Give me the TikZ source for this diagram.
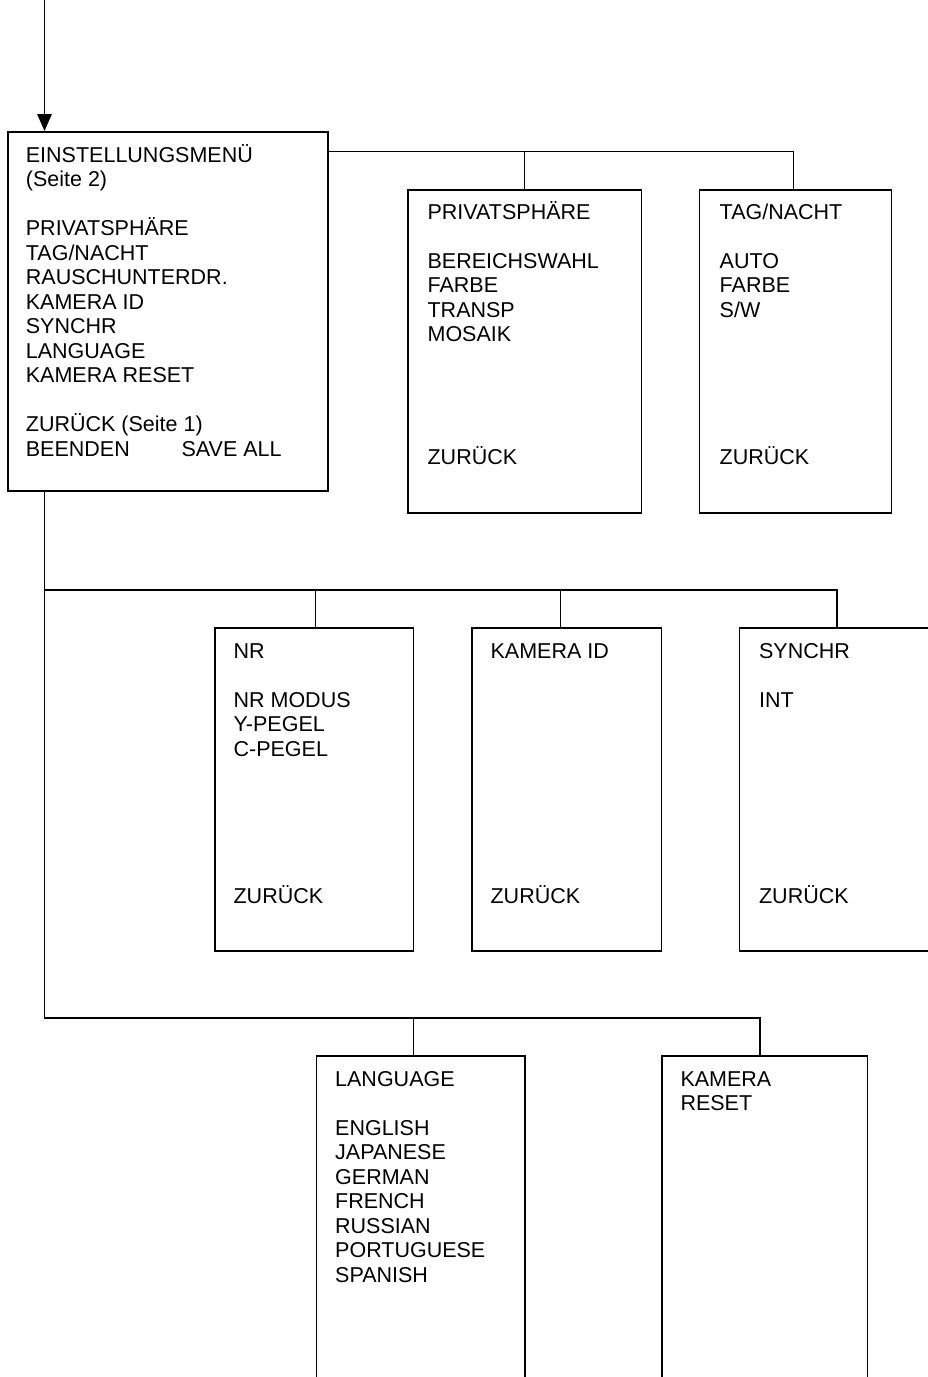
\documentclass[tikz,border=0pt]{standalone}
\usepackage{fontspec}
\setmainfont{Liberation Sans}
\usetikzlibrary{arrows.meta}

\tikzset{
  menubox/.style={draw, line width=1.5pt, anchor=north west, inner sep=0pt},
  menutext/.style={anchor=base west, inner sep=0pt, font=\fontsize{21.5}{24.5}\selectfont},
  link/.style={line width=1.3pt}
}
\newcommand{\gapline}{\\[\baselineskip]}

\begin{document}
\begin{tikzpicture}[x=1pt, y=-1pt]
    \useasboundingbox (0,0) rectangle (927,1377);

    % menu boxes
    \node[menubox, minimum width=320pt, minimum height=359pt] (main) at (7,131) {};
    \node[menubox, minimum width=233.7pt, minimum height=323pt] (priv) at (407,189.3) {};
    \node[menubox, minimum width=192pt, minimum height=323pt] (tag) at (698.7,189.3) {};
    \node[menubox, minimum width=198.4pt, minimum height=323pt] (nr) at (214.3,627.3) {};
    \node[menubox, minimum width=189.7pt, minimum height=323pt] (kid) at (471,627.3) {};
    \node[menubox, minimum width=210pt, minimum height=323pt] (sync) at (738.7,627.3) {};
    \node[menubox, minimum width=208.3pt, minimum height=340pt] (lang) at (315.7,1055.3) {};
    \node[menubox, minimum width=205.7pt, minimum height=340pt] (reset) at (661,1055.3) {};

    % texts
    \node[menutext] (maintext) at ([shift={(18.7pt,-31.3pt)}]main.north west) {\parbox[t]{300pt}{%
      EINSTELLUNGSMENÜ\\
      (Seite 2)\gapline
      PRIVATSPHÄRE\\
      TAG/NACHT\\
      RAUSCHUNTERDR.\\
      KAMERA ID\\
      SYNCHR\\
      LANGUAGE\\
      KAMERA RESET\gapline
      ZURÜCK (Seite 1)\\
      \makebox[155.7pt][l]{BEENDEN}SAVE ALL}};
    \node[menutext] (privtext) at ([shift={(20.4pt,-30pt)}]priv.north west) {\parbox[t]{210pt}{%
      PRIVATSPHÄRE\gapline
      BEREICHSWAHL\\
      FARBE\\
      TRANSP\\
      MOSAIK\\[4\baselineskip]
      ZURÜCK}};
    \node[menutext] (tagtext) at ([shift={(20.8pt,-30pt)}]tag.north west) {\parbox[t]{170pt}{%
      TAG/NACHT\gapline
      AUTO\\
      FARBE\\
      S/W\\[5\baselineskip]
      ZURÜCK}};
    \node[menutext] (nrtext) at ([shift={(19.1pt,-31pt)}]nr.north west) {\parbox[t]{175pt}{%
      NR\gapline
      NR MODUS\\
      Y-PEGEL\\
      C-PEGEL\\[5\baselineskip]
      ZURÜCK}};
    \node[menutext] (kidtext) at ([shift={(19.4pt,-31pt)}]kid.north west) {\parbox[t]{165pt}{%
      KAMERA ID\\[9\baselineskip]
      ZURÜCK}};
    \node[menutext] (synctext) at ([shift={(20.2pt,-31pt)}]sync.north west) {\parbox[t]{165pt}{%
      SYNCHR\gapline
      INT\\[7\baselineskip]
      ZURÜCK}};
    \node[menutext] (langtext) at ([shift={(19.3pt,-30.7pt)}]lang.north west) {\parbox[t]{185pt}{%
      LANGUAGE\gapline
      ENGLISH\\
      JAPANESE\\
      GERMAN\\
      FRENCH\\
      RUSSIAN\\
      PORTUGUESE\\
      SPANISH}};
    \node[menutext] (resettext) at ([shift={(19.3pt,-30.7pt)}]reset.north west) {\parbox[t]{180pt}{%
      KAMERA\\
      RESET}};

    % connectors
    \coordinate (stem) at (44.5,0);
    \coordinate (bus1) at (327,151.7);
    \coordinate (bus2) at (44.5,590);
    \coordinate (bus3) at (44.5,1018);
    \coordinate (privtop) at ([xshift=117.3pt]priv.north west);
    \coordinate (tagtop) at ([xshift=94.6pt]tag.north west);
    \coordinate (nrtop) at ([xshift=101.4pt]nr.north west);
    \coordinate (kidtop) at ([xshift=89.7pt]kid.north west);
    \coordinate (synctop) at ([xshift=98.3pt]sync.north west);
    \coordinate (langtop) at ([xshift=97.6pt]lang.north west);
    \coordinate (resettop) at ([xshift=99pt]reset.north west);

    \draw[link, -{Triangle[length=17pt, width=14.5pt]}] (stem) -- (stem |- main.north);
    \draw[link] (bus1) -| (tagtop);
    \draw[link] (bus1 -| privtop) -- (privtop);
    \draw[link] (stem |- main.south) -- (bus3) -| (resettop);
    \draw[link] (bus3 -| langtop) -- (langtop);
    \draw[link] (bus2) -| (synctop);
    \draw[link] (bus2 -| nrtop) -- (nrtop);
    \draw[link] (bus2 -| kidtop) -- (kidtop);
\end{tikzpicture}
\end{document}
